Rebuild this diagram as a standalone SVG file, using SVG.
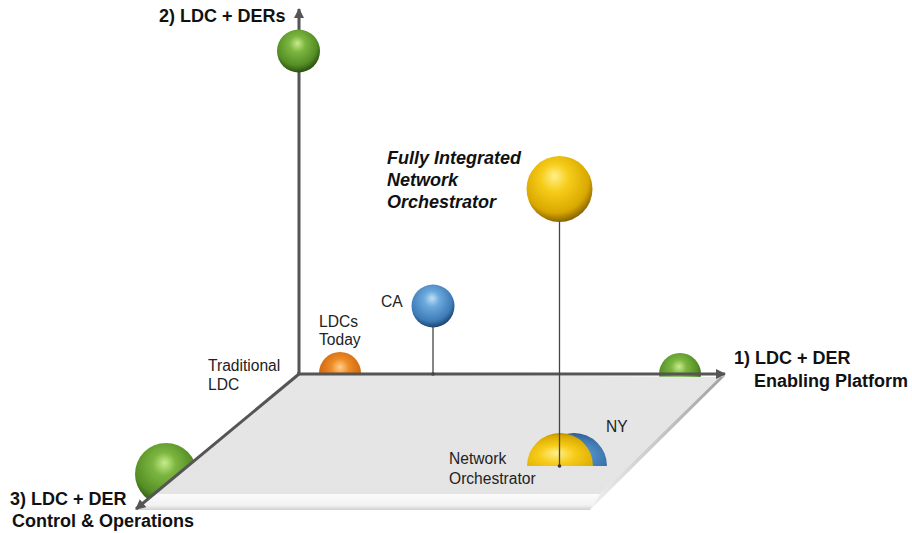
<svg xmlns="http://www.w3.org/2000/svg" width="912" height="533" viewBox="0 0 912 533">
  <style>
    .axis { stroke: #555; stroke-width: 3; fill: none; }
    .stem { stroke: #444; stroke-width: 1.3; fill: none; }
    .lbl { font-family: "Liberation Sans", Arial, sans-serif; font-size: 15.6px; fill: #222; }
    .ax { font-family: "Liberation Sans", Arial, sans-serif; font-size: 18px; font-weight: bold; fill: #111; }
    .hero { font-family: "Liberation Sans", Arial, sans-serif; font-size: 18px; font-weight: bold; font-style: italic; fill: #111; }
  </style>
  <defs>
    <marker id="arrow" viewBox="0 0 10 10" refX="9" refY="5" markerWidth="3.4" markerHeight="3.4" orient="auto" markerUnits="strokeWidth">
      <path d="M0,0 L10,5 L0,10 Z" fill="#555"/>
    </marker>
    <radialGradient id="gGreen" cx="0.45" cy="0.38" r="0.62" fx="0.48" fy="0.32">
      <stop offset="0" stop-color="#c6ec8c"/>
      <stop offset="0.3" stop-color="#7cb640"/>
      <stop offset="0.75" stop-color="#558f26"/>
      <stop offset="1" stop-color="#2a5010"/>
    </radialGradient>
    <radialGradient id="gYellow" cx="0.45" cy="0.38" r="0.62" fx="0.42" fy="0.3">
      <stop offset="0" stop-color="#fff08a"/>
      <stop offset="0.35" stop-color="#f6cc18"/>
      <stop offset="0.8" stop-color="#d9a800"/>
      <stop offset="1" stop-color="#8a6400"/>
    </radialGradient>
    <radialGradient id="gBlue" cx="0.45" cy="0.38" r="0.62" fx="0.48" fy="0.32">
      <stop offset="0" stop-color="#bfe0f6"/>
      <stop offset="0.3" stop-color="#6aa8dc"/>
      <stop offset="0.78" stop-color="#3f7cb8"/>
      <stop offset="1" stop-color="#1c4470"/>
    </radialGradient>
    <radialGradient id="gOrange" cx="0.5" cy="0.42" r="0.62" fx="0.5" fy="0.35">
      <stop offset="0" stop-color="#ffcf8a"/>
      <stop offset="0.35" stop-color="#ee8a26"/>
      <stop offset="0.8" stop-color="#d06a10"/>
      <stop offset="1" stop-color="#8a4206"/>
    </radialGradient>
    <!-- dome variants: bbox is the upper half of the sphere -->
    <radialGradient id="dYellow" cx="0.45" cy="0.75" r="0.8" fx="0.45" fy="0.6">
      <stop offset="0" stop-color="#fff08a"/>
      <stop offset="0.35" stop-color="#f6cc18"/>
      <stop offset="0.8" stop-color="#d9a800"/>
      <stop offset="1" stop-color="#9a7400"/>
    </radialGradient>
    <radialGradient id="dBlue" cx="0.45" cy="0.75" r="0.8" fx="0.45" fy="0.6">
      <stop offset="0" stop-color="#9fcaee"/>
      <stop offset="0.4" stop-color="#4f8cc6"/>
      <stop offset="0.85" stop-color="#34689e"/>
      <stop offset="1" stop-color="#1c426a"/>
    </radialGradient>
    <linearGradient id="topFace" x1="0" y1="0" x2="0" y2="1">
      <stop offset="0" stop-color="#e6e6e6"/>
      <stop offset="1" stop-color="#e4e4e4"/>
    </linearGradient>
    <linearGradient id="frontFace" x1="0" y1="0" x2="0" y2="1">
      <stop offset="0" stop-color="#fbfbfb"/>
      <stop offset="0.7" stop-color="#f2f2f2"/>
      <stop offset="1" stop-color="#d0d0d0"/>
    </linearGradient>
    <linearGradient id="sideFace" x1="0" y1="0" x2="1" y2="0">
      <stop offset="0" stop-color="#f0f0f0"/>
      <stop offset="1" stop-color="#a0a0a0"/>
    </linearGradient>
  </defs>

  <rect width="912" height="533" fill="#ffffff"/>

  <!-- spheres that sit partly behind the platform -->
  <g id="node-ldc-der-control">
    <circle cx="166" cy="474" r="31" fill="url(#gGreen)"/>
  </g>
  <g id="node-ldcs-today">
    <circle cx="340" cy="373" r="21" fill="url(#gOrange)"/>
  </g>
  <g id="node-ldc-der-platform">
    <circle cx="680" cy="374" r="21" fill="url(#gGreen)"/>
  </g>

  <!-- platform slab -->
  <g id="platform">
    <polygon points="719,377 725,376 590,510 600,494" fill="url(#sideFace)"/>
    <polygon points="153,494 600,494 590,510 137,510" fill="url(#frontFace)"/>
    <polygon points="298,374 720,377 600,494 153,494" fill="url(#topFace)"/>
  </g>

  <!-- domes resting on the platform -->
  <g id="node-ny">
    <path d="M541,466 A33,33 0 0 1 607,466 Z" fill="url(#dBlue)"/>
    <text class="lbl" x="606" y="432">NY</text>
  </g>
  <g id="node-network-orchestrator">
    <path d="M527,466 A33,33 0 0 1 593,466 Z" fill="url(#dYellow)"/>
    <text class="lbl" x="449" y="464">Network</text>
    <text class="lbl" x="449" y="484">Orchestrator</text>
  </g>

  <!-- axes and stems -->
  <g id="connectors">
    <line class="axis" x1="299" y1="374" x2="299" y2="9" marker-end="url(#arrow)"/>
    <line class="axis" x1="297" y1="374" x2="725" y2="374" marker-end="url(#arrow)"/>
    <line class="axis" x1="299" y1="374" x2="136" y2="509" stroke-width="2.6" marker-end="url(#arrow)"/>
    <line class="stem" x1="433" y1="326" x2="433" y2="374"/>
    <circle cx="433" cy="374" r="1.8" fill="#444"/>
    <line class="stem" x1="559.5" y1="221" x2="559.5" y2="466"/>
    <circle cx="559.5" cy="466" r="1.8" fill="#333"/>
  </g>

  <!-- floating spheres -->
  <g id="node-ldc-ders">
    <circle cx="298.5" cy="51" r="21.5" fill="url(#gGreen)"/>
  </g>
  <g id="node-ca">
    <circle cx="433" cy="306" r="21.5" fill="url(#gBlue)"/>
    <text class="lbl" x="381" y="307">CA</text>
  </g>
  <g id="node-fully-integrated">
    <circle cx="559.5" cy="189" r="33" fill="url(#gYellow)"/>
    <text class="hero" x="387" y="164">Fully Integrated</text>
    <text class="hero" x="387" y="186">Network</text>
    <text class="hero" x="387" y="208">Orchestrator</text>
  </g>

  <!-- labels -->
  <g id="labels">
    <text class="ax" x="159" y="22">2) LDC + DERs</text>
    <text class="ax" x="734" y="364">1) LDC + DER</text>
    <text class="ax" x="754" y="387">Enabling Platform</text>
    <text class="ax" x="10" y="505">3) LDC + DER</text>
    <text class="ax" x="12" y="527">Control &amp; Operations</text>
    <text class="lbl" x="319" y="327">LDCs</text>
    <text class="lbl" x="319" y="345">Today</text>
    <text class="lbl" x="208" y="371">Traditional</text>
    <text class="lbl" x="208" y="390">LDC</text>
  </g>
</svg>
